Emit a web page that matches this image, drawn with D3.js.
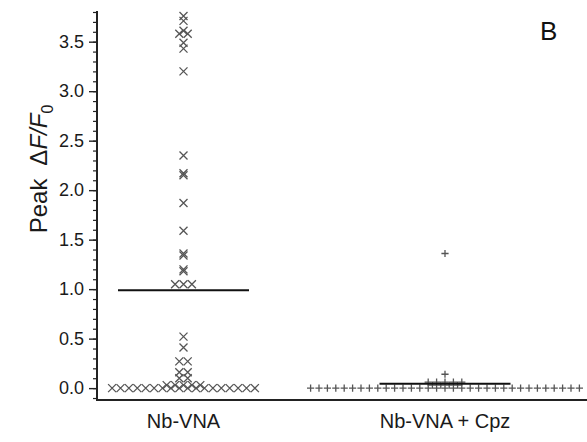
<!DOCTYPE html>
<html>
<head>
<meta charset="utf-8">
<script src="https://cdn.jsdelivr.net/npm/d3@7"></script>
<style>
    body { margin: 0; background: #fff; }
    svg { display: block; font-family: "Liberation Sans", Arial, sans-serif; }
</style>
</head>
<body>
<div id="chart"></div>
<script>
"use strict"

//-----------------------------DATA-----------------------------//
const categories = ["Nb-VNA", "Nb-VNA + Cpz"];

// Peak dF/F0 per cell (equal values are spread sideways)
const vnaValues = [
    3.76, 3.71, 3.61, 3.58, 3.58, 3.49, 3.43, 3.20,
    2.35, 2.17, 2.15, 1.87, 1.59, 1.36, 1.34, 1.20, 1.18, 1.05, 1.05, 1.05,
    0.52, 0.41, 0.27, 0.27, 0.16, 0.16, 0.10, 0.10,
    0.03, 0.03, 0.03, 0.03, 0.03,
    0, 0, 0, 0, 0, 0, 0, 0, 0, 0, 0, 0, 0, 0, 0, 0, 0, 0
];
const cpzValues = [
    1.36, 0.14,
    0.06, 0.06, 0.06, 0.06, 0.06,
    0.03, 0.03, 0.03, 0.03,
    0, 0, 0, 0, 0, 0, 0, 0, 0, 0, 0, 0, 0, 0, 0, 0, 0, 0, 0, 0, 0,
    0, 0, 0, 0, 0, 0, 0, 0, 0, 0, 0, 0
];
const groupMeans = [0.99, 0.045];

const yTickValues = [0, 0.5, 1.0, 1.5, 2.0, 2.5, 3.0, 3.5];
const yMinorTicks = d3.range(-1, 39).map(d => d / 10);

//-------------------------PREPARATION--------------------------//
const width = 587;
const height = 442;
const axisLeftX = 97;
const axisBottomY = 400;
const spread = 8.4;   // horizontal step between points sharing a value

const svg = d3.select("#chart").append("svg")
    .attr("width", width)
    .attr("height", height);

const yScale = d3.scaleLinear().domain([-0.12, 3.81]).range([axisBottomY, 11]);
const xScale = d3.scalePoint().domain(categories).range([183.5, 445]);

//-----------------------------AXES-----------------------------//
const yMinor = d3.axisLeft(yScale)
    .tickValues(yMinorTicks)
    .tickSize(4)
    .tickFormat("");

const yMajor = d3.axisLeft(yScale)
    .tickValues(yTickValues)
    .tickSize(8)
    .tickPadding(5)
    .tickFormat(d3.format(".1f"));

const minorG = svg.append("g")
    .attr("transform", `translate(${axisLeftX},0)`)
    .call(yMinor);
minorG.select(".domain").remove();
minorG.selectAll("line").attr("stroke", "#222").attr("stroke-width", 1.2);

const majorG = svg.append("g")
    .attr("transform", `translate(${axisLeftX},0)`)
    .call(yMajor);
majorG.select(".domain").remove();
majorG.selectAll("line").attr("stroke", "#222").attr("stroke-width", 1.4);
majorG.selectAll("text")
    .attr("fill", "#1a1a1a")
    .style("font-size", "18px");

// axis lines
svg.append("line")
    .attr("x1", axisLeftX).attr("x2", axisLeftX)
    .attr("y1", yScale.range()[1]).attr("y2", axisBottomY + 1)
    .attr("stroke", "#222").attr("stroke-width", 2);

svg.append("line")
    .attr("x1", axisLeftX - 1).attr("x2", width)
    .attr("y1", axisBottomY).attr("y2", axisBottomY)
    .attr("stroke", "#222").attr("stroke-width", 2);

// category labels
svg.append("g").selectAll("text")
    .data(categories)
    .join("text")
    .attr("x", d => xScale(d))
    .attr("y", 428)
    .attr("text-anchor", "middle")
    .attr("fill", "#1a1a1a")
    .style("font-size", "20px")
    .text(d => d);

// y label: Peak  ΔF/F0
const yLabel = svg.append("text")
    .attr("transform", "translate(47,169) rotate(-90)")
    .attr("text-anchor", "middle")
    .attr("fill", "#1a1a1a")
    .style("font-size", "24px");
yLabel.append("tspan").text("Peak");
yLabel.append("tspan").attr("dx", 13).text("\u0394");
yLabel.append("tspan").style("font-style", "italic").text("F/F");
yLabel.append("tspan").attr("dy", 6).style("font-size", "16px").text("0");

// panel letter
svg.append("text")
    .attr("x", 540)
    .attr("y", 40)
    .attr("fill", "#111")
    .style("font-size", "26px")
    .text("B");

//----------------------------POINTS----------------------------//
// points with the same value are laid out side by side, centred on the category
const layout = (values, cat) => {
    const out = [];
    d3.group(values, v => v).forEach((members, v) => {
        const n = members.length;
        members.forEach((m, i) => {
            out.push({ x: xScale(cat) + (i - (n - 1) / 2) * spread, y: yScale(v) });
        });
    });
    return out;
};

const crossPath = "M-4,-4L4,4M-4,4L4,-4";
const plusPath = "M-3.6,0L3.6,0M0,-3.6L0,3.6";

svg.append("g").selectAll("path")
    .data(layout(vnaValues, categories[0]))
    .join("path")
    .attr("transform", d => `translate(${d.x},${d.y})`)
    .attr("d", crossPath)
    .attr("fill", "none")
    .attr("stroke", "#555")
    .attr("stroke-width", 1.3);

svg.append("g").selectAll("path")
    .data(layout(cpzValues, categories[1]))
    .join("path")
    .attr("transform", d => `translate(${d.x},${d.y})`)
    .attr("d", plusPath)
    .attr("fill", "none")
    .attr("stroke", "#555")
    .attr("stroke-width", 1.3);

//-----------------------------MEANS----------------------------//
svg.append("g").selectAll("line")
    .data(groupMeans)
    .join("line")
    .attr("x1", (d, i) => xScale(categories[i]) - 65.5)
    .attr("x2", (d, i) => xScale(categories[i]) + 65.5)
    .attr("y1", d => yScale(d))
    .attr("y2", d => yScale(d))
    .attr("stroke", "#111")
    .attr("stroke-width", 2);
</script>
</body>
</html>
